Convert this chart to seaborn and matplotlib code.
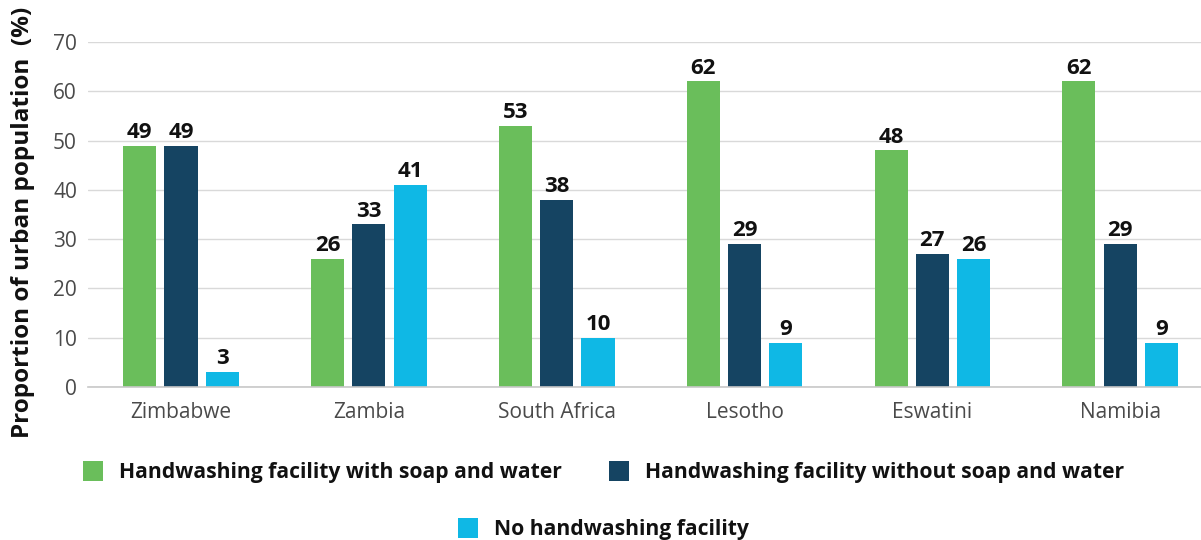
import matplotlib
matplotlib.use("Agg")
import matplotlib.pyplot as plt
import pandas as pd
import seaborn as sns

countries = ["Zimbabwe", "Zambia", "South Africa", "Lesotho", "Eswatini", "Namibia"]
series_names = [
    "Handwashing facility with soap and water",
    "Handwashing facility without soap and water",
    "No handwashing facility",
]
with_soap = [49, 26, 53, 62, 48, 62]
without_soap = [49, 33, 38, 29, 27, 29]
no_facility = [3, 41, 10, 9, 26, 9]
y_ticks = [0, 10, 20, 30, 40, 50, 60, 70]
colors = ["#6abe5b", "#154462", "#0fb8e5"]

rows = []
for name, vals in zip(series_names, [with_soap, without_soap, no_facility]):
    for c, v in zip(countries, vals):
        rows.append({"Country": c, "Series": name, "Value": v})
df = pd.DataFrame(rows)

sns.set_theme(style="white")
plt.rcParams["font.family"] = ["Open Sans", "DejaVu Sans"]

fig = plt.figure(figsize=(12.01, 5.40), dpi=100)
ax = fig.add_axes([88 / 1201, (540 - 387) / 540, 1 - 88 / 1201, 345 / 540])

sns.barplot(
    data=df, x="Country", y="Value", hue="Series",
    order=countries, hue_order=series_names,
    palette=colors, width=0.66, gap=0.2, saturation=1,
    linewidth=0, ax=ax, legend=True,
)

for cont in ax.containers:
    labels = [f"{int(v)}" for v in cont.datavalues]
    ax.bar_label(cont, labels=labels, padding=2, fontsize=16,
                 fontweight="bold", color="#111111")

ax.set_ylim(0, 70)
ax.set_yticks(y_ticks)
ax.set_xlim(-0.495, 5.43)
ax.yaxis.grid(True, color="#d9d9d9", linewidth=1)
ax.set_axisbelow(True)
for s in ["top", "right", "left"]:
    ax.spines[s].set_visible(False)
ax.spines["bottom"].set_color("#c8c8c8")
ax.spines["bottom"].set_linewidth(1.2)
ax.tick_params(axis="both", length=0, labelsize=15, labelcolor="#4a4a4a")
ax.tick_params(axis="x", pad=11)
ax.tick_params(axis="y", pad=8)
ax.set_xlabel("")
ax.set_ylabel("Proportion of urban population  (%)", fontsize=17.5,
              fontweight="bold", color="#111111")
ax.yaxis.set_label_coords(-53 / 1113, 0.478)

handles, labels = ax.get_legend_handles_labels()
ax.get_legend().remove()

leg_kw = dict(frameon=False, handlelength=0.95, handleheight=1.05,
              handletextpad=0.76, prop={"size": 15.2, "weight": "bold"},
              labelcolor="#111111", borderaxespad=0)
leg1 = fig.legend(handles[:2], labels[:2], ncol=2, loc="center",
                  bbox_to_anchor=(603.5 / 1201, 1 - 472 / 540),
                  columnspacing=2.2, **leg_kw)
leg2 = fig.legend(handles[2:], labels[2:], ncol=1, loc="center",
                  bbox_to_anchor=(603.5 / 1201, 1 - 529 / 540), **leg_kw)

fig.savefig("out.png", dpi=100)
